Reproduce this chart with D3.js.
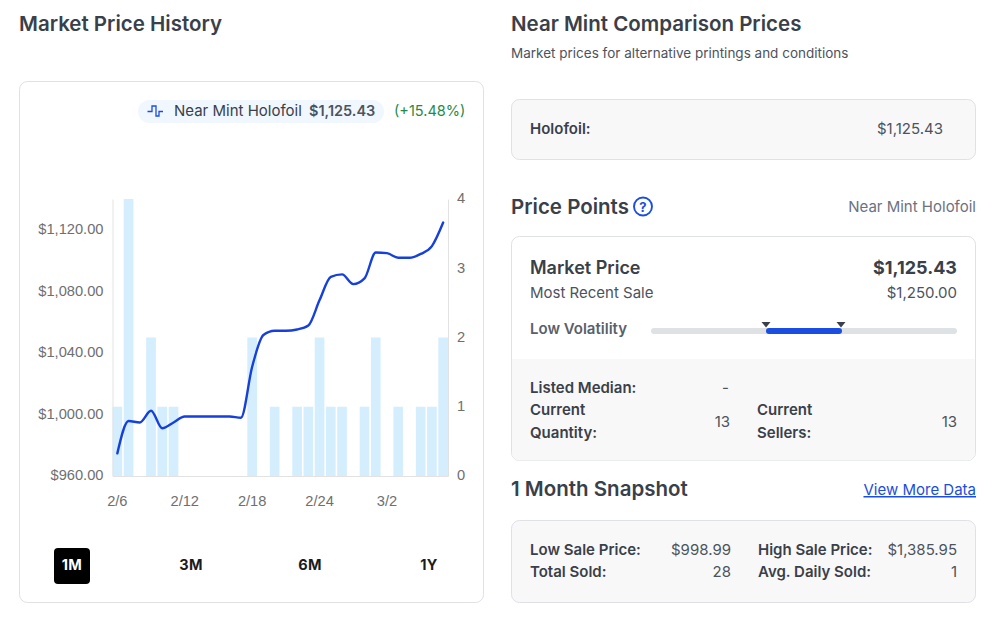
<!DOCTYPE html>
<html><head><meta charset="utf-8">
<script src="https://cdn.jsdelivr.net/npm/d3@7"></script>
<style>html,body{margin:0;padding:0;background:#fff;overflow:hidden}svg{display:block}
text{font-family:Inter,sans-serif;font-kerning:normal}</style></head><body>
<script>
const dates=["2/6","2/7","2/8","2/9","2/10","2/11","2/12","2/13","2/14","2/15","2/16","2/17","2/18","2/19","2/20","2/21","2/22","2/23","2/24","2/25","2/26","2/27","2/28","3/1","3/2","3/3","3/4","3/5","3/6","3/7"];
const sold=[1,4,0,2,1,1,0,0,0,0,0,0,2,0,1,0,1,1,2,1,1,0,1,2,0,1,0,1,1,2];
const prices=[974.7,995.7,994.8,1002.4,991,994.8,998.7,998.7,998.7,998.7,998.7,997.9,1031,1051.6,1054.4,1054.4,1055.2,1057.8,1074.3,1089.4,1091,1084.7,1088.4,1105.2,1104.8,1101.8,1101.8,1104.3,1109.4,1124.7];
const priceTicks=[960,1000,1040,1080,1120];
const soldTicks=[0,1,2,3,4];
const dateTicks=["2/6","2/12","2/18","2/24","3/2"];
const ranges=["1M","3M","6M","1Y"];

const svg=d3.select("body").append("svg").attr("width",1007).attr("height",617);
const DARK="#3a4049",GREY="#4d535c",BORDER="#dfe1e7",PANEL="#f8f8f9",BLUE="#1a4de0",LINE="#1540dc";
function T(s,x,y,o={}){return svg.append("text").text(s).attr("x",x).attr("y",y)
  .attr("font-size",o.size||15).attr("font-weight",o.w||400).attr("fill",o.c||GREY)
  .attr("text-anchor",o.a||"start").attr("letter-spacing",o.ls||null);}
function box(x,y,w,h,fill){svg.append("rect").attr("x",x).attr("y",y).attr("width",w).attr("height",h).attr("rx",8)
  .attr("fill",fill).attr("stroke",BORDER);}

// left card
T("Market Price History",19,31,{size:20.5,w:600,c:DARK});
box(19.5,81.5,464,521,"#fff");
svg.append("rect").attr("x",138).attr("y",100).attr("width",246).attr("height",23).attr("rx",11.5).attr("fill","#f0f7ff");
svg.append("path").attr("d","M147.5 111.5h4.5v-5.5h4v10h3v-4.5h4").attr("fill","none").attr("stroke",BLUE).attr("stroke-width",1.3);
T("Near Mint Holofoil",174,116,{c:"#3a4049"});
T("$1,125.43",309,116,{size:14.5,w:600,c:GREY});
T("(+15.48%)",394,116,{size:14.5,c:"#1f8a4c"});

// chart
const x=d3.scaleBand().domain(dates).range([112.5,448]).paddingInner(0.14).paddingOuter(0.0);
const yP=d3.scaleLinear().domain([960,1140]).range([476,199]);
const yS=d3.scaleLinear().domain([0,4]).range([476,199]);
svg.append("g").selectAll("rect").data(dates).join("rect")
  .attr("x",d=>x(d)).attr("width",x.bandwidth())
  .attr("y",(d,i)=>yS(sold[i])).attr("height",(d,i)=>476-yS(sold[i])).attr("fill","#d4eefe");
const axisFont=(g,dy=0)=>{g.select(".domain").attr("stroke","#e2e2e2");g.selectAll(".tick line").remove();
  g.selectAll("text").style("font-family","'Liberation Sans',Arial,sans-serif").attr("font-size",14.67).attr("fill","#6f6f6f").attr("transform",`translate(0,${dy})`);};
svg.append("g").attr("transform","translate(112.5,0)")
  .call(d3.axisLeft(yP).tickValues(priceTicks).tickSize(0).tickPadding(9).tickFormat(d=>"$"+d3.format(",.2f")(d))).call(axisFont,-0.8);
svg.append("g").attr("transform","translate(448,0)")
  .call(d3.axisRight(yS).tickValues(soldTicks).tickSize(0).tickPadding(9).tickFormat(d3.format("d"))).call(axisFont,-0.8);
svg.append("g").attr("transform","translate(0,476)")
  .call(d3.axisBottom(x).tickValues(dateTicks).tickSize(0).tickPadding(20)).call(axisFont,0);
const line=d3.line().x((d,i)=>x(dates[i])+x.bandwidth()/2).y(d=>yP(d)).curve(d3.curveMonotoneX);
svg.append("path").datum(prices).attr("d",line).attr("fill","none").attr("stroke",LINE).attr("stroke-width",2.4).attr("stroke-linecap","round");

// range buttons
svg.append("rect").attr("x",54).attr("y",548).attr("width",36).attr("height",36).attr("rx",4).attr("fill","#000");
const rangeX=d3.scalePoint().domain(ranges).range([72,429]);
ranges.forEach((r,i)=>T(r,rangeX(r),570,{size:14.5,w:700,a:"middle",ls:0.3,c:i?"#1c1c1c":"#fff"}));

// comparison
T("Near Mint Comparison Prices",511,31,{size:20.5,w:600,c:DARK});
T("Market prices for alternative printings and conditions",511,58,{size:13.5,c:GREY});
box(511.5,99.5,464,60,PANEL);
T("Holofoil:",530,134,{w:600,c:DARK});
T("$1,125.43",943,134,{a:"end"});

// price points
T("Price Points",511,214,{size:20.5,w:600,c:DARK});
svg.append("circle").attr("cx",643).attr("cy",206.5).attr("r",9).attr("fill","none").attr("stroke",BLUE).attr("stroke-width",1.9);
T("?",643,211.5,{size:13,w:700,a:"middle",c:BLUE});
T("Near Mint Holofoil",976,212,{a:"end",c:"#6b7280"});
box(511.5,236.5,464,224,"#fff");
svg.append("path").attr("d","M512 359H975V452.5a8 8 0 0 1-8 8H520a8 8 0 0 1-8-8Z").attr("fill",PANEL);
T("Market Price",530,274,{size:18,w:600,c:DARK});
T("$1,125.43",957,274,{size:18,w:700,a:"end",c:DARK});
T("Most Recent Sale",530,298);
T("$1,250.00",957,298,{a:"end"});
T("Low Volatility",530,334,{w:600,c:"#5a6069"});
svg.append("rect").attr("x",651).attr("y",328).attr("width",306).attr("height",6).attr("rx",3).attr("fill","#dfe2e5");
svg.append("rect").attr("x",766).attr("y",328).attr("width",76).attr("height",6).attr("rx",3).attr("fill",BLUE);
[766,841].forEach(t=>svg.append("path").attr("d",`M${t-4.5} 322H${t+4.5}L${t} 327.5Z`).attr("fill","#3a4049"));
T("Listed Median:",530,393,{w:600,c:DARK});
T("-",729,393,{a:"end"});
T("Current",530,415,{w:600,c:DARK});
T("Quantity:",530,438,{w:600,c:DARK});
T("13",730,427,{a:"end"});
T("Current",757,415,{w:600,c:DARK});
T("Sellers:",757,438,{w:600,c:DARK});
T("13",957,427,{a:"end"});

// snapshot
T("1 Month Snapshot",511,496,{size:20.5,w:600,c:DARK});
T("View More Data",976,495,{a:"end",c:BLUE}).attr("text-decoration","underline");
box(511.5,520.5,464,82,PANEL);
T("Low Sale Price:",530,555,{w:600,c:DARK});
T("$998.99",731,555,{a:"end"});
T("High Sale Price:",758,555,{w:600,c:DARK});
T("$1,385.95",957,555,{a:"end"});
T("Total Sold:",530,577,{w:600,c:DARK});
T("28",731,577,{a:"end"});
T("Avg. Daily Sold:",758,577,{w:600,c:DARK});
T("1",957,577,{a:"end"});
</script></body></html>
